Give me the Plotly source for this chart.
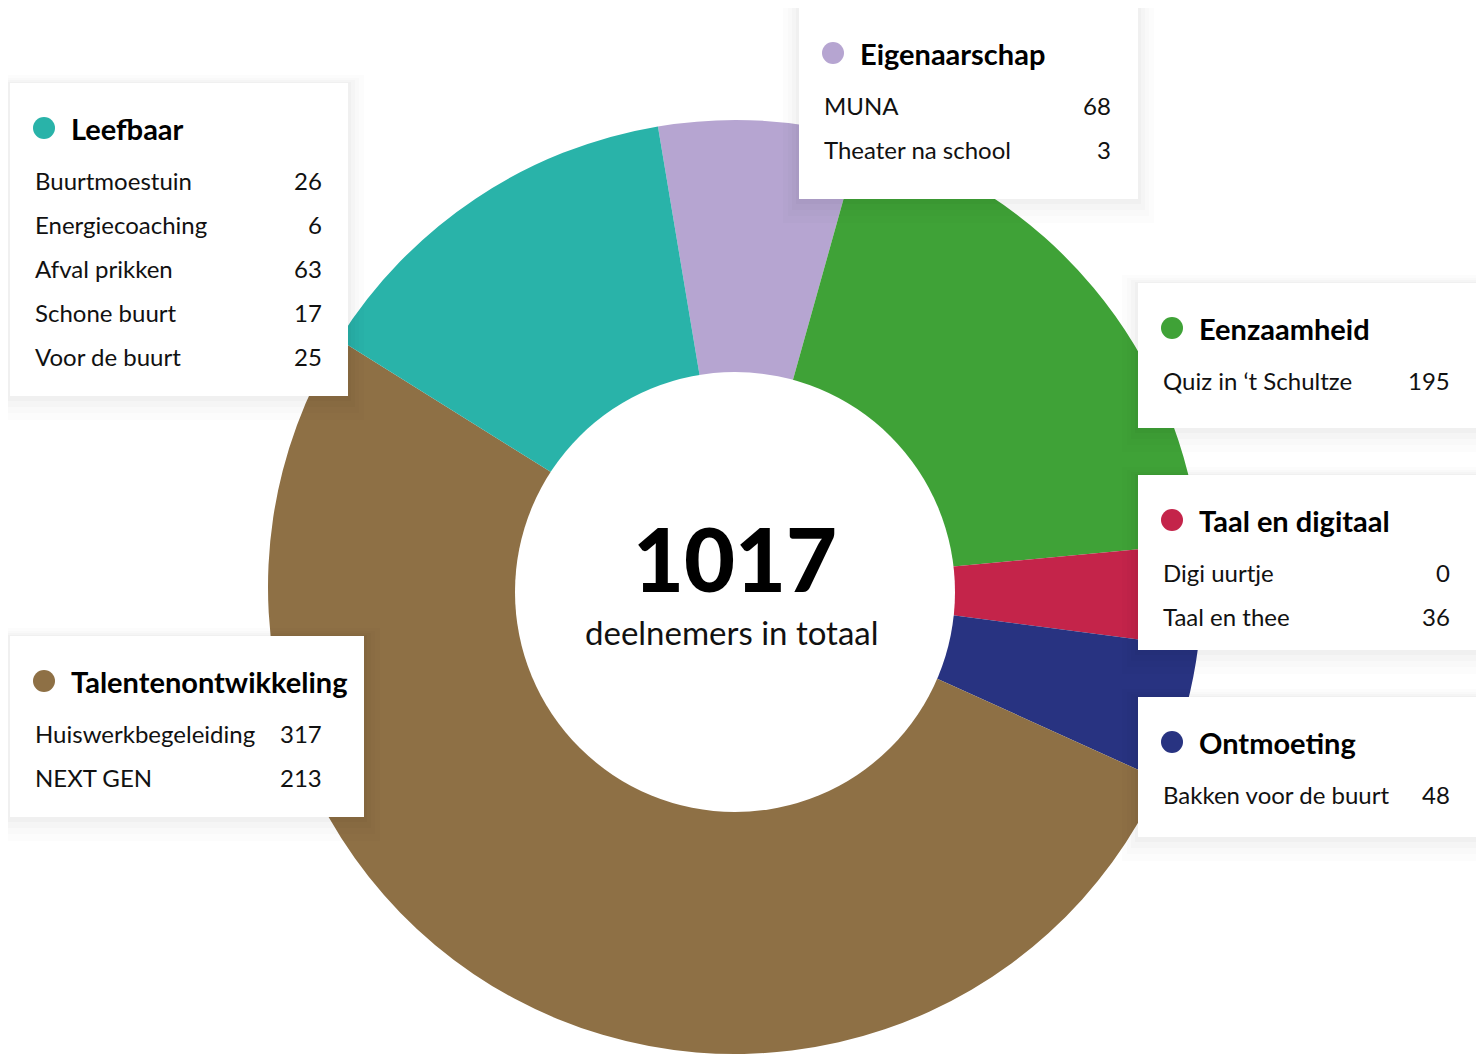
import plotly.graph_objects as go

W, H = 1484, 1054
OFF = 8  # page body margin offset

# ---- data ----
groups = ["Eigenaarschap", "Eenzaamheid", "Taal en digitaal", "Ontmoeting", "Talentenontwikkeling", "Leefbaar"]
colors = ["#B6A5D1", "#3FA237", "#C4244A", "#283381", "#8E7045", "#29B3A9"]
eigenaarschap_items = ["MUNA", "Theater na school"]
eigenaarschap_vals = [68, 3]
eenzaamheid_items = ["Quiz in \u2018t Schultze"]
eenzaamheid_vals = [195]
taal_items = ["Digi uurtje", "Taal en thee"]
taal_vals = [0, 36]
ontmoeting_items = ["Bakken voor de buurt"]
ontmoeting_vals = [48]
talenten_items = ["Huiswerkbegeleiding", "NEXT GEN"]
talenten_vals = [317, 213]
leefbaar_items = ["Buurtmoestuin", "Energiecoaching", "Afval prikken", "Schone buurt", "Voor de buurt"]
leefbaar_vals = [26, 6, 63, 17, 25]
center_label = "deelnemers in totaal"

items = [eigenaarschap_items, eenzaamheid_items, taal_items, ontmoeting_items, talenten_items, leefbaar_items]
vals = [eigenaarschap_vals, eenzaamheid_vals, taal_vals, ontmoeting_vals, talenten_vals, leefbaar_vals]
totals = [sum(v) for v in vals]
grand_total = sum(totals)

# ---- layout of cards (pixel: left, top, width, height) ----
cards = {
    "Eigenaarschap": (799, 8, 339, 191),
    "Eenzaamheid": (1138, 283, 339, 145),
    "Taal en digitaal": (1138, 475, 339, 175),
    "Ontmoeting": (1138, 697, 339, 140),
    "Talentenontwikkeling": (10, 636, 354, 181),
    "Leefbaar": (10, 83, 338, 313),
}

FONT = "Lato"

def px(x):
    return (x - OFF) / W

def py(y):
    return 1 - (y - OFF) / H

fig = go.Figure()
cx, cy, R = 735, 587, 467
fig.add_trace(go.Pie(
    labels=groups, values=totals, sort=False, direction="clockwise",
    rotation=-9.5, hole=0.4,
    marker=dict(colors=colors, line=dict(width=0)),
    textinfo="none", hoverinfo="skip", showlegend=False,
    domain=dict(x=[px(cx - R), px(cx + R)], y=[max(0, py(cy + R)), py(cy - R)]),
))

shapes = []
annotations = []

# white centre disc
hcx, hcy, hr = 735, 592, 220
shapes.append(dict(type="circle", xref="paper", yref="paper",
                   x0=px(hcx - hr), x1=px(hcx + hr), y0=py(hcy + hr), y1=py(hcy - hr),
                   fillcolor="white", line=dict(width=0), layer="above"))

for g, col, its, vs in zip(groups, colors, items, vals):
    L, T, Wc, Hc = cards[g]
    # soft shadow
    for spread, dy, op in [(16, 8, 0.010), (11, 6, 0.012), (7, 4, 0.015), (3, 2, 0.02)]:
        shapes.append(dict(type="rect", xref="paper", yref="paper",
                           x0=px(L - spread), x1=px(L + Wc + spread),
                           y0=py(T + Hc + spread + dy), y1=py(T - spread + dy),
                           fillcolor="black", opacity=op, line=dict(width=0), layer="above"))
    shapes.append(dict(type="rect", xref="paper", yref="paper",
                       x0=px(L), x1=px(L + Wc), y0=py(T + Hc), y1=py(T),
                       fillcolor="white", line=dict(width=0), layer="above"))
    # dot
    dcx, dcy, r = L + 34, T + 45, 11
    shapes.append(dict(type="circle", xref="paper", yref="paper",
                       x0=px(dcx - r), x1=px(dcx + r), y0=py(dcy + r), y1=py(dcy - r),
                       fillcolor=col, line=dict(width=0), layer="above"))
    annotations.append(dict(xref="paper", yref="paper", x=px(L + 59), y=py(T + 45),
                            text="<b>" + g + "</b>", showarrow=False, xanchor="left", yanchor="middle",
                            font=dict(family=FONT, size=29, color="#000000", weight=900)))
    for k, (it, v) in enumerate(zip(its, vs)):
        yy = T + 97 + 44 * k
        annotations.append(dict(xref="paper", yref="paper", x=px(L + 23), y=py(yy),
                                text=it, showarrow=False, xanchor="left", yanchor="middle",
                                font=dict(family=FONT, size=24, color="#111111")))
        annotations.append(dict(xref="paper", yref="paper", x=px(L + 314), y=py(yy),
                                text=str(v), showarrow=False, xanchor="right", yanchor="middle",
                                font=dict(family=FONT, size=24, color="#111111")))

annotations.append(dict(xref="paper", yref="paper", x=px(cx), y=py(558),
                        text=str(grand_total), showarrow=False,
                        xanchor="center", yanchor="middle",
                        font=dict(family=FONT, size=88, color="#000000", weight=900)))
annotations.append(dict(xref="paper", yref="paper", x=px(cx - 3), y=py(632),
                        text=center_label, showarrow=False,
                        xanchor="center", yanchor="middle",
                        font=dict(family=FONT, size=33, color="#111111")))

fig.update_layout(width=W, height=H, margin=dict(l=0, r=0, t=0, b=0),
                  paper_bgcolor="white", plot_bgcolor="white",
                  shapes=shapes, annotations=annotations)

fig.write_html("out.html", config={"displayModeBar": False})
